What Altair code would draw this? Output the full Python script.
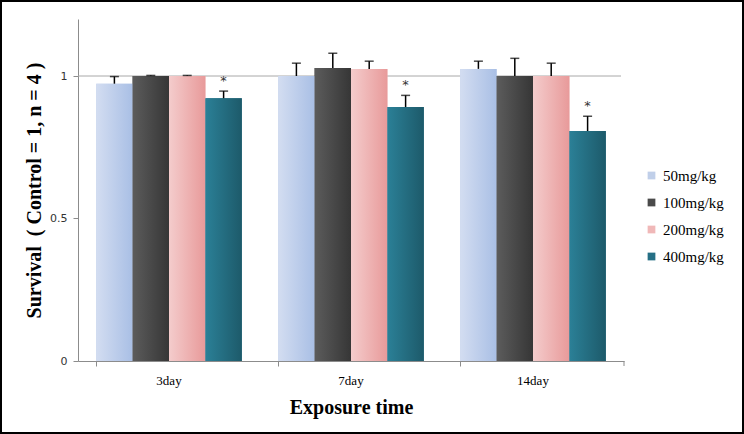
import altair as alt
import pandas as pd

days = ["3day", "7day", "14day"]
doses = ["50mg/kg", "100mg/kg", "200mg/kg", "400mg/kg"]
values = {
    "50mg/kg": [0.973, 1.0, 1.025],
    "100mg/kg": [1.0, 1.028, 1.0],
    "200mg/kg": [1.0, 1.025, 1.0],
    "400mg/kg": [0.922, 0.891, 0.807],
}
errors = {
    "50mg/kg": [0.025, 0.045, 0.027],
    "100mg/kg": [0.002, 0.052, 0.062],
    "200mg/kg": [0.002, 0.027, 0.045],
    "400mg/kg": [0.025, 0.041, 0.052],
}
legend_colors = ["#c0cfe9", "#4a4a4a", "#f0b8b8", "#256f85"]
gradients = {
    "50mg/kg": ("#d3ddf1", "#a9bfe5"),
    "100mg/kg": ("#5c5c5c", "#363636"),
    "200mg/kg": ("#f4cccc", "#e89a9a"),
    "400mg/kg": ("#2b8097", "#1d5a6a"),
}

rows = []
for d in doses:
    for i, day in enumerate(days):
        rows.append({"day": day, "dose": d, "value": values[d][i],
                     "top": values[d][i] + errors[d][i]})
df = pd.DataFrame(rows)

W, H = 546, 342
serif = "Liberation Serif"

x_enc = alt.X("day:N", sort=days,
              scale=alt.Scale(paddingInner=0.2, paddingOuter=0.1),
              axis=alt.Axis(title="Exposure time", bandPosition=0, grid=False,
                            labelFont=serif, labelFontSize=13, labelColor="#000",
                            labelPadding=8, labelAngle=0,
                            titleFont=serif, titleFontSize=20, titleFontWeight="bold",
                            titleColor="#000", titlePadding=10,
                            domainColor="#8c8c8c", tickColor="#8c8c8c", tickSize=5))
xo_enc = alt.XOffset("dose:N", sort=doses, scale=alt.Scale(paddingInner=0, paddingOuter=0))
y_scale = alt.Scale(domain=[0, 1.2], nice=False)

base = alt.Chart(df)

bars_legend = base.mark_bar().encode(
    x=x_enc, xOffset=xo_enc,
    y=alt.Y("value:Q", scale=y_scale,
            axis=alt.Axis(values=[0, 0.5, 1], format="~g", grid=False,
                          title="Survival\u00a0\u00a0(\u00a0Control\u00a0=\u00a01,\u00a0n\u00a0=\u00a04\u00a0)",
                          titleFont=serif, titleFontSize=20, titleFontWeight="bold",
                          titleColor="#000", titleX=-44, titleY=H / 2,
                          titleAngle=-90, titleAlign="center", titleBaseline="middle",
                          labelFont="DejaVu Sans", labelFontSize=11, labelColor="#333",
                          labelPadding=6,
                          domainColor="#8c8c8c", tickColor="#8c8c8c", tickSize=5)),
    color=alt.Color("dose:N", sort=doses,
                    scale=alt.Scale(domain=doses, range=legend_colors),
                    legend=alt.Legend(title=None, orient="none", legendX=566, legendY=149,
                                      symbolType="square", symbolSize=60,
                                      symbolStrokeWidth=0,
                                      labelFont=serif, labelFontSize=15,
                                      labelColor="#000", rowPadding=11,
                                      labelOffset=4)),
)

grad_layers = []
for d in doses:
    c1, c2 = gradients[d]
    grad_layers.append(
        base.transform_filter(alt.datum.dose == d).mark_bar(
            color=alt.Gradient(gradient="linear",
                               stops=[alt.GradientStop(color=c1, offset=0),
                                      alt.GradientStop(color=c2, offset=1)],
                               x1=0, x2=1, y1=0, y2=0)
        ).encode(x=alt.X("day:N", sort=days), xOffset=xo_enc, y="value:Q")
    )

err_rule = base.mark_rule(color="#000", strokeWidth=1.5).encode(
    x=alt.X("day:N", sort=days), xOffset=xo_enc, y="value:Q", y2="top:Q")
err_cap = base.mark_tick(color="#000", orient="horizontal", size=9, thickness=1.5).encode(
    x=alt.X("day:N", sort=days), xOffset=xo_enc, y="top:Q")
stars = base.transform_filter(alt.datum.dose == "400mg/kg").mark_text(
    text="*", font="DejaVu Sans", fontSize=13, color="#333", dy=-3, baseline="bottom"
).encode(x=alt.X("day:N", sort=days), xOffset=xo_enc, y="top:Q")

frame_df = pd.DataFrame({"k": [1]})
grid1 = alt.Chart(frame_df).mark_rule(color="#a8a8a8", strokeWidth=1).encode(y=alt.datum(1))
# white covers over the plot-area outline at the top and right edges, drawn last
cover_top = alt.Chart(frame_df).mark_rect(color="white").encode(
    x=alt.value(2), x2=alt.value(W + 4), y=alt.value(-3), y2=alt.value(3))
cover_right = alt.Chart(frame_df).mark_rect(color="white").encode(
    x=alt.value(W - 3), x2=alt.value(W + 4), y=alt.value(-3), y2=alt.value(H - 1))
end_tick = alt.Chart(frame_df).mark_rect(color="#8c8c8c").encode(
    x=alt.value(W - 0.5), x2=alt.value(W + 0.5), y=alt.value(H), y2=alt.value(H + 5))
frame = alt.Chart(frame_df).mark_rect(filled=False, stroke="#000", strokeWidth=2).encode(
    x=alt.value(-77), x2=alt.value(665), y=alt.value(-18), y2=alt.value(414))

chart = alt.layer(grid1, bars_legend, *grad_layers, err_rule, err_cap,
                  stars, end_tick, frame, cover_top, cover_right).properties(
    width=W, height=H,
    background="white",
    autosize=alt.AutoSizeParams(type="none"),
    padding={"left": 78, "top": 19, "right": 120, "bottom": 73},
).configure_view(stroke="transparent", strokeWidth=0)

chart.save("out.html", embed_options={"renderer": "svg", "actions": False})
